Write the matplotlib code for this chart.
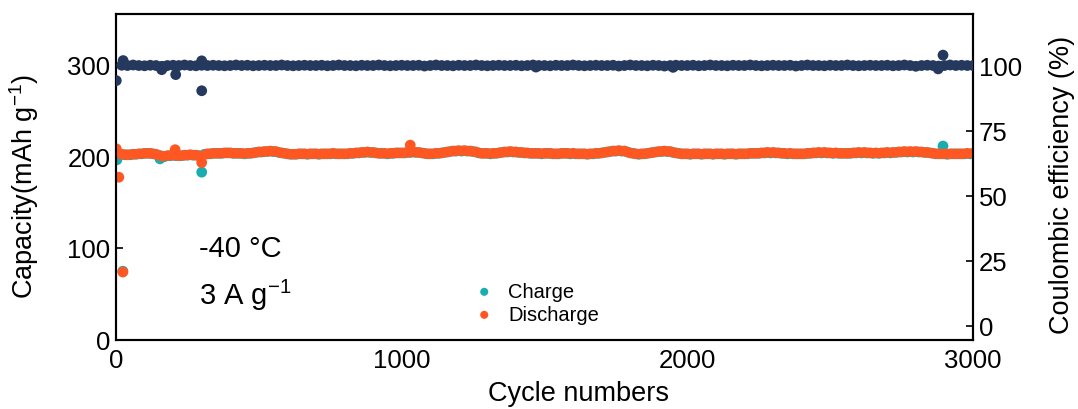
import numpy as np
import matplotlib
matplotlib.use("Agg")
import matplotlib.pyplot as plt

plt.rcParams['font.family'] = ['Liberation Sans', 'DejaVu Sans']
plt.rcParams['mathtext.fontset'] = 'custom'
plt.rcParams['mathtext.rm'] = 'Liberation Sans'

# ---------------- data ----------------
# discharge capacity (mAh g-1) at cycles 1, 20, 40, ..., 3000
discharge = [208, 202, 201.5, 202, 202.5, 203, 203, 202, 200, 200.5,
             201, 200.5, 201, 201.5, 201, 200, 202.5, 203, 203, 203.5,
             203.5, 203, 203, 203, 203.5, 204.5, 205, 205.5, 205, 203.5,
             202.5, 202, 202.5, 202.5, 202.5, 202.5, 202.5, 202.5, 203, 202.5,
             202.5, 203, 203.5, 204, 204.5, 204, 203, 203, 203, 203.5,
             203.5, 204, 204.5, 204, 203, 202.5, 203, 203.5, 204.5, 205.5,
             206, 206, 205.5, 204.5, 203, 203, 203, 203.5, 204.5, 205,
             204.5, 204, 203.5, 203, 203, 203, 203, 202.5, 203, 203,
             203, 202.5, 202.5, 202.5, 203, 203.5, 204.5, 205.5, 206, 205.5,
             203.5, 202.5, 202.5, 203, 204, 205, 205.5, 205, 203.5, 202.5,
             202.5, 202.5, 202.5, 202.5, 202.5, 202.5, 202.5, 202.5, 202.5, 202.5,
             202.5, 203, 203, 203.5, 204, 204, 203.5, 203, 203, 202.5,
             202.5, 203, 203.5, 204, 204, 203.5, 203.5, 203, 203, 203.5,
             204, 204, 203.5, 203.5, 203.5, 204, 204, 204.5, 205, 205,
             205, 204.5, 204, 203, 202.5, 202.5, 202.5, 202.5, 202.5, 203,
             203]
discharge_extra_cycles = [10, 24, 207, 300, 1030]
discharge_extra_values = [177, 73.6, 207, 193, 212]

# charge capacity (mAh g-1) at cycles 10, 30, ..., 2990
charge = [202, 201.5, 201.5, 202, 202.5, 203, 202.5, 201, 199.5, 200.5,
          200.5, 200.5, 201, 201, 200.5, 202, 202.5, 203, 203, 203.5,
          203, 203, 202.5, 203, 204, 204.5, 205, 205, 204, 203,
          202, 202, 202.5, 202, 202.5, 202, 202.5, 202.5, 202.5, 202.5,
          202.5, 203, 203.5, 204, 204, 203.5, 203, 202.5, 203, 203.5,
          203.5, 204, 204, 203.5, 202.5, 202.5, 203, 204, 205, 205.5,
          205.5, 205.5, 205, 203.5, 203, 202.5, 203, 204, 204.5, 204.5,
          204, 203.5, 203, 203, 202.5, 203, 202.5, 202.5, 203, 202.5,
          202.5, 202.5, 202, 202.5, 203, 204, 205, 205.5, 205.5, 204.5,
          203, 202, 202.5, 203.5, 204.5, 205, 205, 204, 203, 202.5,
          202, 202.5, 202, 202.5, 202, 202.5, 202, 202.5, 202, 202.5,
          202.5, 203, 203, 203.5, 203.5, 203.5, 203, 202.5, 202.5, 202.5,
          202.5, 203, 203.5, 203.5, 203.5, 203, 203, 203, 203, 203.5,
          203.5, 203.5, 203, 203, 203.5, 203.5, 204, 204.5, 204.5, 204.5,
          204.5, 204, 203.5, 202.5, 202.5, 202, 202.5, 202.5, 202.5, 202.5]
charge_extra_cycles = [3, 24, 154, 300, 2895]
charge_extra_values = [196, 74.5, 197, 182.5, 211]

# coulombic efficiency (%) at cycles 1, 20, 40, ..., 3000
ce = [94.2, 100.1, 100.0, 100.2, 100.0, 99.9, 100.1, 100.0, 99.7, 100.0,
      100.1, 100.0, 100.2, 100.0, 99.9, 100.1, 100.0, 100.1, 100.0, 99.9,
      100.0, 100.2, 100.0, 100.1, 99.9, 100.0, 100.1, 100.0, 100.0, 100.2,
      100.0, 99.9, 100.0, 100.1, 100.0, 100.0, 100.1, 99.9, 100.0, 100.2,
      100.0, 100.0, 99.9, 100.1, 100.0, 100.0, 100.2, 100.0, 99.9, 100.0,
      100.1, 100.0, 100.0, 100.1, 99.8, 100.0, 100.2, 100.0, 100.0, 99.9,
      100.1, 100.0, 100.0, 100.2, 100.0, 99.9, 100.0, 100.1, 100.0, 100.0,
      100.1, 99.9, 100.0, 100.2, 100.0, 100.0, 99.9, 100.1, 100.0, 100.0,
      100.2, 100.0, 99.9, 100.0, 100.1, 100.0, 100.0, 100.1, 99.8, 100.0,
      100.2, 100.0, 100.0, 99.9, 100.1, 100.0, 99.8, 100.0, 100.1, 100.0,
      100.0, 100.1, 99.9, 100.0, 100.2, 100.0, 100.0, 99.9, 100.1, 100.0,
      100.0, 100.2, 100.0, 99.9, 100.0, 100.1, 100.0, 100.0, 100.1, 99.8,
      100.0, 100.2, 100.0, 100.0, 99.9, 100.1, 100.0, 100.0, 100.2, 100.0,
      99.9, 100.0, 100.1, 100.0, 100.0, 100.1, 99.9, 100.0, 100.2, 100.0,
      99.7, 100.0, 100.1, 100.0, 99.8, 100.0, 100.2, 100.0, 100.1, 100.0,
      100.0]
ce_extra_cycles = [25, 160, 170, 209, 300, 300, 1470, 1950, 2878, 2895]
ce_extra_values = [101.9, 98.4, 99.6, 96.5, 90.3, 101.8, 99.4, 99.3, 98.7, 104.0]

x_ticks = [0, 1000, 2000, 3000]
cap_ticks = [0, 100, 200, 300]
ce_ticks = [0, 25, 50, 75, 100]

# ---------------- cycles for the sampled series ----------------
dis_cycles = [1] + [20 * i for i in range(1, len(discharge))]
chg_cycles = [10 + 20 * i for i in range(len(charge))]
ce_cycles = [1] + [20 * i for i in range(1, len(ce))]

c_navy = '#25395f'
c_orange = '#ff5722'
c_teal = '#1aadb0'

W, H = 1078, 410
fig = plt.figure(figsize=(W / 100, H / 100), dpi=100)
L, R, B, T = 116, 973, 340.5, 15
ax = fig.add_axes([L / W, (H - B) / H, (R - L) / W, (B - T) / H])
ax2 = ax.twinx()

def px_x(x):
    return (x - L) / (R - L)

def px_y(y):
    return (B - y) / (B - T)

ms = 60
ax.scatter(chg_cycles + charge_extra_cycles, charge + charge_extra_values,
           s=ms, color=c_teal, edgecolors='none', label='Charge', zorder=2)
ax.scatter(dis_cycles + discharge_extra_cycles, discharge + discharge_extra_values,
           s=ms, color=c_orange, edgecolors='none', label='Discharge', zorder=3)
ax2.scatter(ce_cycles + ce_extra_cycles, ce + ce_extra_values,
            s=ms, color=c_navy, edgecolors='none', zorder=3)

ax.set_xlim(0, 3000)
ax.set_ylim(0, 355)
ax2.set_ylim(-5.3, 119.8)
ax.set_xticks(x_ticks)
ax.set_yticks(cap_ticks)
ax2.set_yticks(ce_ticks)

fs = 18.5
for a in (ax, ax2):
    a.tick_params(direction='in', length=5, width=1.2, labelsize=fs, pad=4)
    for s in a.spines.values():
        s.set_linewidth(1.5)
ax.tick_params(axis='x', length=0, pad=6)

lfs = 19.5
ax.set_xlabel('Cycle numbers', fontsize=lfs)
ax.set_ylabel('Capacity(mAh g$^{-1}$)', fontsize=lfs)
ax2.set_ylabel('Coulombic efficiency (%)', fontsize=lfs)
ax.xaxis.set_label_coords(px_x(578), px_y(381))
ax.yaxis.set_label_coords(px_x(41), px_y(187))
ax2.yaxis.set_label_coords(px_x(1049), px_y(185))

ax.text(px_x(199), px_y(249), '-40 °C', transform=ax.transAxes,
        fontsize=21, va='center', ha='left')
ax.text(px_x(199), px_y(295), '3 A g$^{-1}$', transform=ax.transAxes,
        fontsize=21, va='center', ha='left')

ax.legend(loc='upper left', bbox_to_anchor=(px_x(450), px_y(269)),
          frameon=False, fontsize=14.5, handletextpad=0.2, labelspacing=0.2,
          scatterpoints=1, markerscale=0.75, borderpad=0.2)

fig.savefig('out.png', dpi=100)
